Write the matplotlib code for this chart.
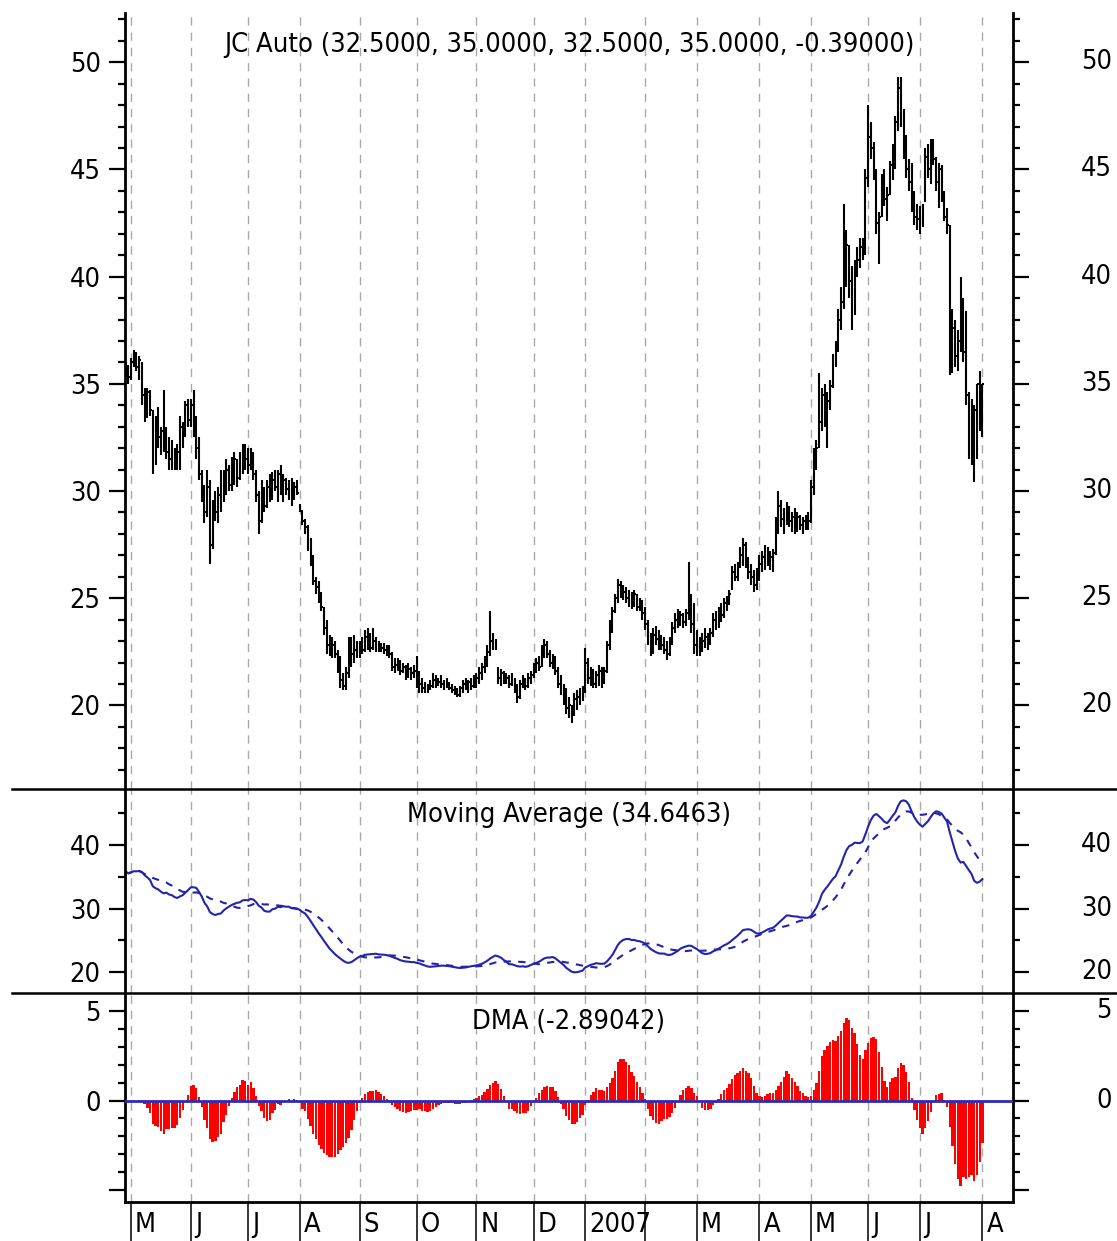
import numpy as np
import pandas as pd
import matplotlib
matplotlib.use("Agg")
import matplotlib.pyplot as plt
from matplotlib import font_manager as fm
from matplotlib.lines import Line2D
from matplotlib.transforms import blended_transform_factory, ScaledTranslation

# ---------------- data (daily bars, late Apr 2006 .. 1 Aug 2007) ----------------
lows = [
    35.3, 35.0,
    35.2, 35.8, 35.6, 35.2, 34.0, 33.2, 33.4, 33.5, 30.8, 31.2, 32.0, 31.7, 31.8, 31.5, 31.0, 31.0, 31.0, 31.0, 31.0, 32.0, 32.5, 33.0,
    33.0, 32.5, 31.5, 30.5, 29.5, 28.5, 28.8, 26.6, 27.3, 28.6, 28.5, 29.0, 29.5, 29.8, 30.0, 30.0, 30.3, 30.2, 30.5, 30.8, 31.0,
    30.8, 31.0, 30.5, 29.5, 28.0, 28.5, 29.0, 29.2, 29.5, 29.6, 30.0, 29.5, 29.8, 29.5, 29.8, 29.6, 29.3, 29.6, 29.8,
    29.0, 28.4, 28.0, 27.2, 26.5, 25.6, 25.2, 24.8, 24.4, 23.3, 22.4, 22.3, 22.2, 22.2, 21.5, 20.8, 20.7, 20.7, 21.3, 21.8, 22.0, 22.2,
    22.2, 22.4, 22.5, 22.6, 22.5, 22.6, 22.5, 22.5, 22.5, 22.4, 22.3, 22.2, 21.6, 21.5, 21.6, 21.4, 21.5, 21.2, 21.3, 21.2, 21.3,
    20.8, 20.6, 20.6, 20.6, 20.6, 20.7, 20.8, 20.8, 20.9, 20.8, 20.7, 20.8, 20.7, 20.6, 20.5, 20.4, 20.4, 20.6, 20.7, 20.6, 20.7, 20.8,
    20.8, 21.0, 21.2, 21.5, 21.8, 22.3, 22.6, 22.6, 21.0, 20.9, 21.0, 21.0, 20.8, 20.9, 20.6, 20.1, 20.3, 20.8, 20.7, 20.8, 21.0,
    21.3, 21.5, 21.6, 21.8, 22.2, 22.2, 21.8, 21.7, 21.4, 20.8, 20.5, 20.0, 19.6, 19.4, 19.2, 19.5, 19.8, 20.0, 20.2,
    20.6, 21.0, 20.9, 20.8, 20.8, 20.9, 20.8, 21.0, 21.5, 22.6, 23.4, 24.3, 24.8, 25.0, 24.9, 24.8, 24.6, 24.5, 24.6, 24.4, 24.4, 24.0,
    23.5, 22.8, 22.3, 22.4, 22.8, 22.6, 22.6, 22.4, 22.1, 22.3, 22.8, 23.4, 23.6, 23.7, 23.6, 23.7, 24.0, 23.4, 22.4,
    22.3, 22.3, 22.5, 22.7, 22.6, 22.8, 23.2, 23.5, 23.6, 23.9, 24.1, 24.4, 24.7, 25.4, 25.8, 25.8, 26.4, 26.5, 26.4, 25.9, 25.6, 25.3, 25.4,
    25.8, 26.2, 26.3, 26.5, 26.3, 26.2, 27.0, 28.0, 28.3, 28.0, 28.4, 28.3, 28.1, 28.0, 28.1, 28.2, 28.0, 28.2, 28.2,
    28.5, 29.8, 31.0, 32.0, 32.8, 33.0, 32.0, 33.8, 34.8, 35.8, 36.5, 37.5, 38.5, 39.5, 39.0, 37.5, 38.2, 40.0, 40.4, 40.8, 41.0,
    44.2, 45.5, 44.5, 42.0, 40.6, 42.8, 43.3, 42.6, 43.8, 44.5, 45.0, 46.8, 47.0, 45.5, 44.6, 44.0, 43.0, 42.4, 42.2,
    42.0, 42.3, 43.5, 44.6, 44.3, 45.2, 44.0, 43.2, 43.5, 42.6, 42.0, 35.4, 35.5, 35.8, 35.6, 36.5, 36.0, 34.0, 31.5, 31.2, 30.4, 31.5, 32.8,
    32.5,
]
highs = [
    36.0, 35.9,
    36.2, 36.6, 36.5, 36.3, 36.0, 34.8, 34.8, 34.7, 33.8, 33.5, 33.9, 33.0, 34.7, 33.0, 32.5, 32.4, 32.0, 32.2, 33.5, 33.2, 34.2, 34.3,
    34.3, 34.7, 33.5, 32.5, 31.0, 30.3, 31.0, 30.5, 29.6, 30.0, 30.2, 31.0, 31.0, 31.5, 31.2, 31.6, 31.8, 31.5, 31.8, 32.2, 32.2,
    32.0, 32.0, 31.8, 31.0, 30.0, 30.5, 30.2, 30.5, 30.8, 30.9, 31.0, 31.0, 31.2, 30.8, 30.6, 30.5, 30.6, 30.4, 30.5,
    29.4, 29.1, 28.7, 28.4, 27.8, 27.0, 26.0, 25.8, 25.3, 24.6, 24.0, 23.3, 23.2, 23.0, 22.6, 22.3, 21.5, 21.8, 23.2, 23.2, 23.3, 23.0,
    23.0, 23.2, 23.5, 23.6, 23.4, 23.6, 23.2, 23.0, 22.9, 22.9, 22.8, 22.8, 22.5, 22.2, 22.2, 22.1, 22.0, 21.9, 22.0, 21.8, 21.9,
    22.3, 21.6, 21.3, 21.1, 21.0, 21.2, 21.5, 21.4, 21.3, 21.4, 21.2, 21.3, 21.1, 21.0, 20.9, 20.8, 20.9, 21.2, 21.3, 21.2, 21.3, 21.4,
    21.5, 21.8, 22.0, 22.3, 22.8, 24.4, 23.4, 23.1, 21.8, 21.7, 21.6, 21.5, 21.4, 21.5, 21.3, 21.0, 21.2, 21.4, 21.3, 21.5, 21.6,
    22.0, 22.2, 22.3, 22.8, 23.1, 23.0, 22.6, 22.4, 22.3, 21.8, 21.4, 21.0, 20.8, 20.4, 20.0, 20.6, 20.7, 20.8, 20.9,
    22.7, 22.2, 21.8, 21.7, 21.6, 21.9, 21.8, 21.8, 23.0, 24.0, 24.6, 25.2, 25.9, 25.8, 25.6, 25.5, 25.4, 25.3, 25.4, 25.2, 25.0, 24.9,
    24.6, 24.0, 23.4, 23.6, 23.7, 23.5, 23.3, 23.2, 23.0, 23.2, 23.9, 24.3, 24.5, 24.4, 24.3, 24.5, 26.7, 25.2, 24.8,
    23.5, 23.2, 23.4, 23.6, 23.4, 23.6, 24.3, 24.4, 24.6, 24.8, 25.0, 25.1, 25.4, 26.5, 26.6, 26.7, 27.4, 27.8, 27.6, 26.9, 26.6, 26.3, 26.4,
    27.0, 27.2, 27.5, 27.4, 27.2, 27.3, 28.8, 30.0, 29.6, 29.2, 29.5, 29.3, 29.0, 29.2, 29.0, 28.9, 28.8, 28.9, 29.0,
    30.5, 32.0, 32.4, 35.5, 34.8, 35.0, 34.6, 35.2, 36.4, 37.0, 38.5, 39.5, 43.4, 42.2, 41.5, 40.5, 40.8, 41.4, 41.8, 41.8, 45.0,
    48.0, 47.2, 46.3, 45.0, 43.0, 44.8, 45.0, 44.2, 45.4, 46.2, 47.5, 49.3, 49.3, 47.8, 46.6, 45.5, 45.3, 44.0, 43.4,
    43.3, 43.4, 46.0, 46.2, 46.4, 46.4, 45.6, 45.3, 45.2, 44.0, 43.2, 42.4, 38.5, 38.0, 37.5, 40.0, 39.0, 38.4, 34.6, 34.3, 34.0, 35.0, 35.6,
    35.0,
]
closes = [
    35.8, 35.3,
    36.0, 36.4, 35.8, 36.1, 34.5, 33.5, 34.6, 33.8, 31.2, 33.0, 32.5, 32.8, 32.5, 31.8, 31.5, 32.0, 31.3, 31.8, 33.0, 32.5, 34.0, 33.3,
    34.0, 33.0, 32.0, 30.8, 29.8, 29.0, 30.2, 27.5, 29.3, 29.0, 29.8, 30.6, 29.8, 31.0, 30.3, 31.2, 31.5, 30.6, 31.4, 31.8, 31.5,
    31.2, 31.8, 30.8, 29.8, 28.6, 29.8, 29.3, 30.2, 29.8, 30.5, 30.2, 30.8, 29.9, 30.5, 30.1, 30.3, 29.5, 30.2, 29.9,
    29.2, 28.6, 28.3, 27.5, 26.8, 25.8, 25.5, 25.0, 24.6, 23.6, 22.8, 22.6, 22.8, 22.4, 21.8, 21.2, 20.9, 21.5, 22.0, 22.4, 22.6, 22.5,
    22.8, 22.6, 23.2, 22.9, 22.7, 23.0, 22.8, 22.7, 22.7, 22.6, 22.6, 22.4, 21.8, 21.9, 21.8, 21.6, 21.8, 21.4, 21.7, 21.5, 21.6,
    21.2, 21.0, 20.8, 20.8, 20.8, 20.9, 21.2, 21.0, 21.1, 21.0, 20.9, 21.0, 20.8, 20.7, 20.6, 20.5, 20.8, 21.0, 20.9, 21.1, 20.9, 21.2,
    21.3, 21.5, 21.8, 22.0, 22.5, 23.0, 22.8, 22.9, 21.3, 21.5, 21.2, 21.3, 21.0, 21.3, 20.8, 20.4, 21.0, 21.2, 20.9, 21.3, 21.4,
    21.8, 22.0, 21.8, 22.6, 22.8, 22.4, 22.0, 22.2, 21.6, 21.0, 20.7, 20.3, 19.9, 20.0, 19.5, 20.3, 20.4, 20.5, 20.6,
    22.0, 21.3, 21.5, 21.0, 21.4, 21.6, 21.2, 21.6, 22.8, 23.8, 24.4, 25.0, 25.6, 25.2, 25.3, 25.0, 25.1, 24.8, 25.2, 24.6, 24.7, 24.3,
    23.8, 23.0, 22.6, 23.3, 23.1, 22.9, 22.8, 22.6, 22.4, 22.9, 23.6, 24.0, 23.9, 24.2, 23.9, 24.3, 24.6, 23.8, 22.8,
    22.8, 22.6, 23.0, 23.2, 22.9, 23.4, 24.0, 23.8, 24.4, 24.2, 24.8, 24.9, 25.2, 26.2, 26.0, 26.5, 27.0, 27.5, 26.6, 26.2, 26.0, 25.6, 26.1,
    26.6, 26.9, 27.2, 26.8, 26.9, 27.1, 28.6, 29.3, 28.7, 28.9, 29.1, 28.6, 28.8, 28.5, 28.8, 28.4, 28.6, 28.5, 28.6,
    30.2, 31.6, 32.0, 33.2, 34.5, 33.5, 34.2, 34.9, 36.2, 36.6, 38.0, 38.8, 41.0, 41.5, 39.8, 39.0, 40.5, 40.8, 41.4, 41.2, 44.6,
    46.5, 46.0, 44.8, 42.5, 42.8, 44.5, 43.6, 43.8, 45.2, 45.8, 47.2, 48.8, 47.3, 46.0, 45.0, 44.4, 43.5, 42.8, 42.7,
    42.6, 42.8, 45.6, 45.0, 46.0, 45.5, 44.4, 45.0, 43.8, 42.8, 42.4, 36.0, 37.6, 36.3, 37.0, 39.3, 36.5, 34.5, 33.0, 34.0, 33.8, 35.0, 35.4,
    35.0,
]
# index of the first trading day of each month, and its label
month_start_idx = [2, 24, 45, 64, 86, 107, 129, 150, 169, 191, 210, 233, 252, 273, 292, 315]
month_labels = ['M', 'J', 'J', 'A', 'S', 'O', 'N', 'D', '2007', '', 'M', 'A', 'M', 'J', 'J', 'A']

title_price = 'JC Auto (32.5000, 35.0000, 32.5000, 35.0000, -0.39000)'
title_ma = 'Moving Average (34.6463)'
title_dma = 'DMA (-2.89042)'
MA_SHORT, MA_LONG = 5, 16

price_major = [20, 25, 30, 35, 40, 45, 50]
price_minor = list(range(17, 53))
ma_major = [20, 30, 40]
ma_minor = [25, 35, 45]
dma_major = [-5, 0, 5]
dma_major_labels = ['', '0', '5']
dma_minor = list(range(-5, 6))

# ---------------- fonts ----------------
names = {f.name for f in fm.fontManager.ttflist}
stretch = 'normal'
if 'Liberation Sans Narrow' in names:
    FAMILY, FS = 'Liberation Sans Narrow', 21.5
elif any(f.name == 'DejaVu Sans' and 'condensed' in str(f.stretch) for f in fm.fontManager.ttflist):
    FAMILY, FS, stretch = 'DejaVu Sans', 19.5, 'condensed'
elif 'Liberation Sans' in names:
    FAMILY, FS = 'Liberation Sans', 19
else:
    FAMILY, FS = 'DejaVu Sans', 17
plt.rcParams['font.family'] = [FAMILY]
plt.rcParams['font.stretch'] = stretch
plt.rcParams['font.size'] = FS

# ---------------- layout ----------------
W, H = 1117, 1241
fig = plt.figure(figsize=(W / 100, H / 100), dpi=100)
L, R = 125, 1013
def frac(top, bot):
    return [L / W, 1 - bot / H, (R - L) / W, (bot - top) / H]

ax1 = fig.add_axes(frac(13, 789))
ax2 = fig.add_axes(frac(789, 993.3), sharex=ax1)
ax3 = fig.add_axes(frac(993.3, 1202), sharex=ax1)

x = np.arange(len(closes))
s = pd.Series(closes, dtype=float)
ma_s = s.rolling(MA_SHORT, min_periods=1).mean()
ma_l = s.rolling(MA_LONG, min_periods=1).mean()
dma = ma_s - ma_l

grid_kw = dict(color='#a9a9a9', lw=1.0, ls=(0, (6, 5)), zorder=0)
for ax in (ax1, ax2, ax3):
    for m in month_start_idx:
        ax.axvline(m, **grid_kw)
    for sp in ('top', 'bottom'):
        ax.spines[sp].set_visible(False)
    for sp in ('left', 'right'):
        ax.spines[sp].set_linewidth(2.0)
    ax.tick_params(axis='y', which='both', left=True, right=True, direction='out',
                   labelleft=True, labelright=False, width=1.6, colors='black')
    ax.tick_params(axis='y', which='major', length=11.5, pad=6)
    ax.tick_params(axis='y', which='minor', length=5)
    ax.tick_params(axis='x', which='both', bottom=False, top=False, labelbottom=False)
ax3.spines['bottom'].set_visible(True)
ax3.spines['bottom'].set_linewidth(2.0)

ax1.set_xlim(-0.22, 326.25)

# price bars (high-low with close tick)
ax1.vlines(x, lows, highs, color='black', lw=1.5)
ax1.hlines(closes, x, x + 0.6, color='black', lw=1.5)

# moving averages
ma_col = '#2323ad'
ax2.plot(x, ma_s, color=ma_col, lw=1.5)
ax2.plot(x, ma_l, color=ma_col, lw=1.5, ls=(0, (3.5, 3.5)))

# DMA
ax3.bar(x, dma, width=0.85, color='#ff0000', lw=0, zorder=2)
ax3.axhline(0, color='#2b2bb8', lw=2.0, zorder=3)

# y axes
ax1.set_ylim(16.1, 52.3)
ax1.set_yticks(price_major)
ax1.set_yticks(price_minor, minor=True)
ax2.set_ylim(16.7, 48.8)
ax2.set_yticks(ma_major)
ax2.set_yticks(ma_minor, minor=True)
ax3.set_ylim(-5.67, 6.0)
ax3.set_yticks(dma_major)
ax3.set_yticklabels(dma_major_labels)
ax3.set_yticks(dma_minor, minor=True)

# right-hand labels (right-aligned near the figure edge)
right_x = 1 + (1112 - R) / (R - L)
for ax, vals, labs in ((ax1, price_major, [str(v) for v in price_major]),
                       (ax2, ma_major, [str(v) for v in ma_major]),
                       (ax3, dma_major, dma_major_labels)):
    tr = blended_transform_factory(ax.transAxes, ax.transData)
    for v, lab in zip(vals, labs):
        if lab:
            ax.text(right_x, v, lab, transform=tr, ha='right', va='center', clip_on=False)

# panel titles
ax1.text(0.5, 0.959, title_price, transform=ax1.transAxes, ha='center', va='center')
ax2.text(0.5, 0.873, title_ma, transform=ax2.transAxes, ha='center', va='center')
ax3.text(0.5, 0.862, title_dma, transform=ax3.transAxes, ha='center', va='center')

# x axis: long month ticks below the bottom panel, labels to their right
ax3.set_xticks(month_start_idx)
ax3.tick_params(axis='x', which='major', bottom=True, direction='out', length=29, width=1.1,
                labelbottom=False)
lab_tr = blended_transform_factory(ax3.transData, ax3.transAxes) + \
    ScaledTranslation(4 / 100, 0, fig.dpi_scale_trans)
for m, lab in zip(month_start_idx, month_labels):
    if lab:
        ax3.text(m, -0.112, lab, transform=lab_tr, ha='left', va='center', clip_on=False)

# separator lines between panels
for yy in (789, 993.3):
    fig.add_artist(Line2D([12 / W, 1.0], [1 - yy / H, 1 - yy / H], transform=fig.transFigure,
                          color='black', lw=1.8))

fig.savefig('out.png', dpi=100)
